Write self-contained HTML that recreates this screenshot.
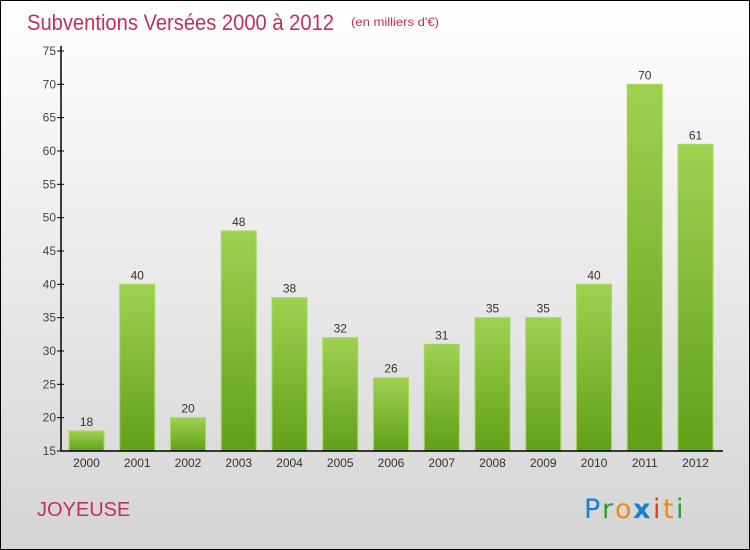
<!DOCTYPE html>
<html><head><meta charset="utf-8"><style>
body{margin:0}
#c{position:relative;width:748px;height:548px;border:1px solid #000;background:linear-gradient(#ffffff,#d4d4d4);font-family:"Liberation Sans",sans-serif;overflow:hidden}
</style></head><body>
<div id="c">
<svg width="748" height="548" id="s">
<defs><linearGradient id="g" x1="0" y1="0" x2="0" y2="1"><stop offset="0" stop-color="#9fd150"/><stop offset="1" stop-color="#62a018"/></linearGradient></defs>
<text x="26" y="29" font-size="22" fill="#c0305e" textLength="307" lengthAdjust="spacingAndGlyphs">Subventions Versées 2000 à 2012</text>
<text x="350" y="25" font-size="12" fill="#c0305e" textLength="88" lengthAdjust="spacingAndGlyphs">(en milliers d'€)</text>
<text x="36" y="515" font-size="20" fill="#c0305e">JOYEUSE</text>
<g font-size="27" font-family="DejaVu Sans, sans-serif">
<text x="583" y="517" fill="#1a7fd0">P</text><text x="601" y="517" fill="#2e9c3a">r</text><text x="614" y="517" fill="#f08a10">o</text><text x="632" y="517" fill="#1a7fd0" font-weight="bold">x</text><text x="652" y="517" fill="#e04020">i</text><text x="662" y="517" fill="#f08a10">t</text><text x="675" y="517" fill="#2e9c3a">i</text>
</g>
<g id="plot"></g>
</svg>
</div>
<script>
const years=["2000","2001","2002","2003","2004","2005","2006","2007","2008","2009","2010","2011","2012"];
const values=[18,40,20,48,38,32,26,31,35,35,40,70,61];
const ticks=[15,20,25,30,35,40,45,50,55,60,65,70,75];
const NS="http://www.w3.org/2000/svg";
const p=document.getElementById('plot');
const y=v=>450-(v-15)*400/60;
const x=i=>85.5+i*50.75;
function mk(t,a,txt){const e=document.createElementNS(NS,t);for(const k in a)e.setAttribute(k,a[k]);if(txt!==undefined)e.textContent=txt;p.appendChild(e);return e;}
ticks.forEach(t=>{
 const l=mk('line',{x1:56,x2:63,y1:y(t),y2:y(t),stroke:'#000'});
 
 
 const tx=mk('text',{x:55,y:y(t)+4,'font-size':12,fill:'#444','text-anchor':'end'},t);
 
 
});
values.forEach((v,i)=>{
 const r=mk('rect',{x:x(i)-17.5,y:y(v),width:35,height:450-y(v),fill:'url(#g)',stroke:'#a6d860','stroke-width':1});
 
 
 const vl=mk('text',{x:x(i),y:y(v)-5,'font-size':12,fill:'#333','text-anchor':'middle'},v);
 
 
 const xl=mk('text',{x:x(i),y:466,'font-size':12,fill:'#333','text-anchor':'middle'},years[i]);
 
 
});
const ya=mk('line',{x1:60,x2:60,y1:45,y2:450,stroke:'#000','stroke-width':1.5});


const xa=mk('line',{x1:60,x2:722,y1:450,y2:450,stroke:'#000','stroke-width':1.5});


</script>
</body></html>
